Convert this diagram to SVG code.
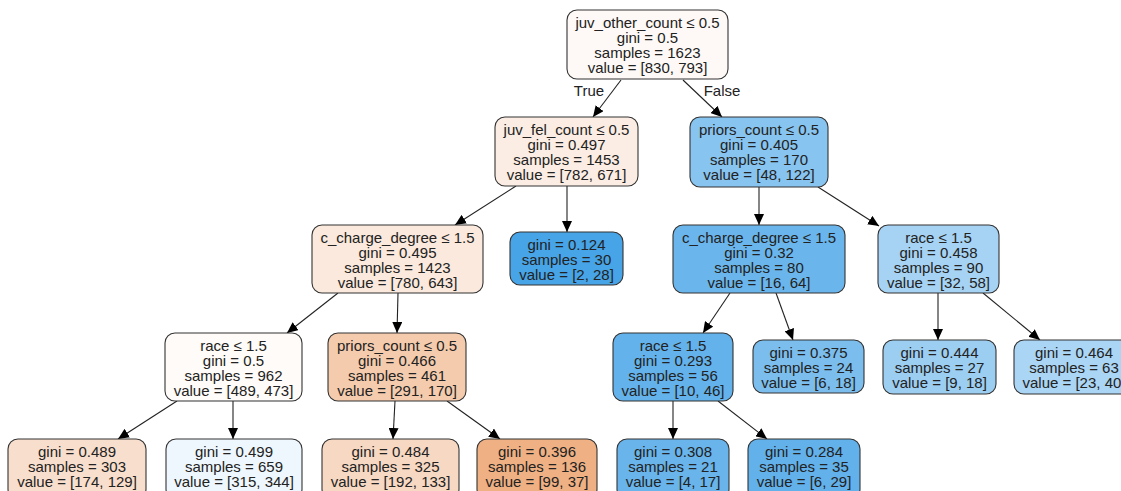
<svg xmlns="http://www.w3.org/2000/svg" width="1121" height="491" viewBox="0 0 1121 491">
<defs>
<marker id="arr" markerUnits="userSpaceOnUse" markerWidth="11" markerHeight="10" refX="11" refY="5" orient="auto">
<path d="M0,0 L11,5 L0,10 z" fill="#000"/>
</marker>
<style>
.n rect{stroke:#333;stroke-width:1.1}
.n text,.lbl{font-family:"Liberation Sans",Arial,Helvetica,sans-serif;font-size:15px;fill:#222;text-anchor:middle}
.e line{stroke:#222;stroke-width:1.1;marker-end:url(#arr)}
</style>
</defs>
<rect width="1121" height="491" fill="#fff"/>
<g id="edges" class="e">
<line x1="621" y1="80" x2="593" y2="117"/>
<line x1="683" y1="80" x2="722" y2="117"/>
<line x1="516" y1="186" x2="455" y2="225"/>
<line x1="567" y1="186" x2="567" y2="232"/>
<line x1="759" y1="187" x2="759" y2="225"/>
<line x1="818" y1="187" x2="879" y2="226"/>
<line x1="338" y1="293" x2="287" y2="333"/>
<line x1="398" y1="293" x2="397" y2="333"/>
<line x1="177" y1="401" x2="118" y2="439"/>
<line x1="233" y1="401" x2="233" y2="439"/>
<line x1="395" y1="401" x2="393" y2="439"/>
<line x1="447" y1="401" x2="500" y2="439"/>
<line x1="730" y1="293" x2="703" y2="333"/>
<line x1="776" y1="293" x2="793" y2="340"/>
<line x1="673" y1="401" x2="673" y2="439"/>
<line x1="718" y1="401" x2="767" y2="439"/>
<line x1="938" y1="293" x2="938" y2="340"/>
<line x1="983" y1="293" x2="1040" y2="340"/>
<text class="lbl" x="589" y="96">True</text>
<text class="lbl" x="722" y="96">False</text>
</g>
<g id="n0" class="n"><rect x="567" y="10" width="161" height="69" rx="10" fill="#fef9f6"/>
<text x="647.5" y="28">juv_other_count ≤ 0.5</text><text x="647.5" y="43">gini = 0.5</text><text x="647.5" y="58">samples = 1623</text><text x="647.5" y="73">value = [830, 793]</text></g>
<g id="n1" class="n"><rect x="495" y="117" width="143" height="69" rx="10" fill="#fbede3"/>
<text x="566.5" y="135">juv_fel_count ≤ 0.5</text><text x="566.5" y="150">gini = 0.497</text><text x="566.5" y="165">samples = 1453</text><text x="566.5" y="180">value = [782, 671]</text></g>
<g id="n2" class="n"><rect x="690" y="117" width="138" height="70" rx="10" fill="#87c4ef"/>
<text x="759" y="135">priors_count ≤ 0.5</text><text x="759" y="150">gini = 0.405</text><text x="759" y="165">samples = 170</text><text x="759" y="180">value = [48, 122]</text></g>
<g id="n3" class="n"><rect x="312" y="225" width="171" height="68" rx="10" fill="#fae9dc"/>
<text x="397.5" y="243">c_charge_degree ≤ 1.5</text><text x="397.5" y="258">gini = 0.495</text><text x="397.5" y="273">samples = 1423</text><text x="397.5" y="288">value = [780, 643]</text></g>
<g id="n4" class="n"><rect x="510" y="232" width="113" height="53" rx="10" fill="#47a4e7"/>
<text x="566.5" y="250">gini = 0.124</text><text x="566.5" y="265">samples = 30</text><text x="566.5" y="280">value = [2, 28]</text></g>
<g id="n5" class="n"><rect x="673" y="225" width="172" height="68" rx="10" fill="#6ab6ec"/>
<text x="759" y="243">c_charge_degree ≤ 1.5</text><text x="759" y="258">gini = 0.32</text><text x="759" y="273">samples = 80</text><text x="759" y="288">value = [16, 64]</text></g>
<g id="n6" class="n"><rect x="878" y="225" width="121" height="68" rx="10" fill="#a6d3f3"/>
<text x="938.5" y="243">race ≤ 1.5</text><text x="938.5" y="258">gini = 0.458</text><text x="938.5" y="273">samples = 90</text><text x="938.5" y="288">value = [32, 58]</text></g>
<g id="n7" class="n"><rect x="165" y="333" width="137" height="68" rx="10" fill="#fefbf8"/>
<text x="233.5" y="351">race ≤ 1.5</text><text x="233.5" y="366">gini = 0.5</text><text x="233.5" y="381">samples = 962</text><text x="233.5" y="396">value = [489, 473]</text></g>
<g id="n8" class="n"><rect x="328" y="333" width="138" height="68" rx="10" fill="#f4cbad"/>
<text x="397" y="351">priors_count ≤ 0.5</text><text x="397" y="366">gini = 0.466</text><text x="397" y="381">samples = 461</text><text x="397" y="396">value = [291, 170]</text></g>
<g id="n9" class="n"><rect x="613" y="333" width="120" height="68" rx="10" fill="#64b2eb"/>
<text x="673" y="351">race ≤ 1.5</text><text x="673" y="366">gini = 0.293</text><text x="673" y="381">samples = 56</text><text x="673" y="396">value = [10, 46]</text></g>
<g id="n10" class="n"><rect x="753" y="340" width="111" height="53" rx="10" fill="#7bbeee"/>
<text x="808.5" y="358">gini = 0.375</text><text x="808.5" y="373">samples = 24</text><text x="808.5" y="388">value = [6, 18]</text></g>
<g id="n11" class="n"><rect x="883" y="340" width="113" height="54" rx="10" fill="#9ccef2"/>
<text x="939.5" y="358">gini = 0.444</text><text x="939.5" y="373">samples = 27</text><text x="939.5" y="388">value = [9, 18]</text></g>
<g id="n12" class="n"><rect x="1014" y="340" width="120" height="54" rx="10" fill="#abd5f4"/>
<text x="1074" y="358">gini = 0.464</text><text x="1074" y="373">samples = 63</text><text x="1074" y="388">value = [23, 40]</text></g>
<g id="n13" class="n"><rect x="8" y="439" width="138" height="60" rx="10" fill="#f8decc"/>
<text x="77" y="457">gini = 0.489</text><text x="77" y="472">samples = 303</text><text x="77" y="487">value = [174, 129]</text></g>
<g id="n14" class="n"><rect x="166" y="439" width="136" height="60" rx="10" fill="#eef7fd"/>
<text x="234" y="457">gini = 0.499</text><text x="234" y="472">samples = 659</text><text x="234" y="487">value = [315, 344]</text></g>
<g id="n15" class="n"><rect x="322" y="439" width="137" height="60" rx="10" fill="#f7d8c2"/>
<text x="390.5" y="457">gini = 0.484</text><text x="390.5" y="472">samples = 325</text><text x="390.5" y="487">value = [192, 133]</text></g>
<g id="n16" class="n"><rect x="477" y="439" width="120" height="60" rx="10" fill="#efb083"/>
<text x="537" y="457">gini = 0.396</text><text x="537" y="472">samples = 136</text><text x="537" y="487">value = [99, 37]</text></g>
<g id="n17" class="n"><rect x="617" y="439" width="112" height="60" rx="10" fill="#68b4eb"/>
<text x="673" y="457">gini = 0.308</text><text x="673" y="472">samples = 21</text><text x="673" y="487">value = [4, 17]</text></g>
<g id="n18" class="n"><rect x="748" y="439" width="112" height="60" rx="10" fill="#62b1ea"/>
<text x="804" y="457">gini = 0.284</text><text x="804" y="472">samples = 35</text><text x="804" y="487">value = [6, 29]</text></g>
</svg>
